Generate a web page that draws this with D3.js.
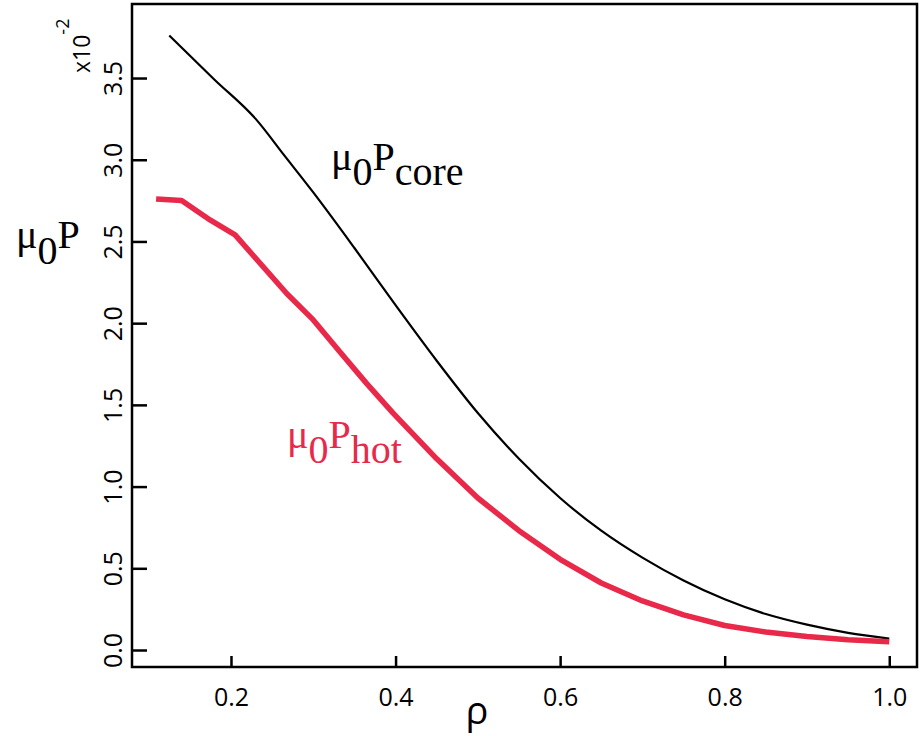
<!DOCTYPE html>
<html>
<head>
<meta charset="utf-8">
<script src="https://cdn.jsdelivr.net/npm/d3@7"></script>
<style>
  html, body { margin: 0; padding: 0; background: #fff; }
  svg { display: block; }
  .serif { font-family: "Liberation Serif", "Times New Roman", "DejaVu Serif", serif; }
  .sans { font-family: "Open Sans", "Noto Sans", sans-serif; }
</style>
</head>
<body>
<svg id="chart" width="924" height="736"></svg>
<script>
// Normalised radius rho and pressure profiles (units of 1e-2)
const rhoCore = [0.125, 0.18, 0.23, 0.265, 0.30, 0.35, 0.40, 0.45, 0.50, 0.55, 0.60, 0.65, 0.70, 0.75, 0.80, 0.85, 0.90, 0.95, 1.00];
const pCore   = [3.76, 3.49, 3.25, 3.025, 2.80, 2.46, 2.11, 1.77, 1.45, 1.17, 0.93, 0.73, 0.565, 0.425, 0.31, 0.22, 0.155, 0.105, 0.07];

const rhoHot = [0.109, 0.140, 0.175, 0.205, 0.268, 0.300, 0.333, 0.365, 0.397, 0.45, 0.50, 0.55, 0.60, 0.65, 0.70, 0.75, 0.80, 0.85, 0.90, 0.95, 1.00];
const pHot   = [2.76, 2.75, 2.63, 2.54, 2.18, 2.02, 1.82, 1.63, 1.45, 1.17, 0.93, 0.73, 0.555, 0.41, 0.30, 0.215, 0.15, 0.11, 0.083, 0.063, 0.05];

const xTicks = [0.2, 0.4, 0.6, 0.8, 1.0];
const yTicks = [0.0, 0.5, 1.0, 1.5, 2.0, 2.5, 3.0, 3.5];

const RED = "#e8294a";

const svg = d3.select("#chart");
const plotLeft = 132, plotRight = 917, plotTop = 4, plotBottom = 667;

const x = d3.scaleLinear().domain([0.0797, 1.0337]).range([plotLeft, plotRight]);
const y = d3.scaleLinear().domain([-0.104, 3.953]).range([plotBottom, plotTop]);

// Frame
svg.append("rect")
  .attr("x", plotLeft).attr("y", plotTop)
  .attr("width", plotRight - plotLeft).attr("height", plotBottom - plotTop)
  .attr("fill", "none").attr("stroke", "#000").attr("stroke-width", 2.5);

// Bottom axis: inward ticks
const xAxis = svg.append("g").attr("transform", `translate(0,${plotBottom})`)
  .call(d3.axisBottom(x).tickValues(xTicks).tickSize(-11).tickPadding(21).tickFormat(d3.format(".1f")));
xAxis.attr("font-family", null).attr("font-size", null);
xAxis.select(".domain").remove();
xAxis.selectAll(".tick line").attr("stroke-width", 2.5);
xAxis.selectAll(".tick text")
  .attr("class", "sans").style("font-size", "25px").attr("fill", "#000");

// Left axis: inward ticks, rotated labels
const yAxis = svg.append("g").attr("transform", `translate(${plotLeft},0)`)
  .call(d3.axisLeft(y).tickValues(yTicks).tickSize(-15).tickFormat(d3.format(".1f")));
yAxis.attr("font-family", null).attr("font-size", null);
yAxis.select(".domain").remove();
yAxis.selectAll(".tick line").attr("stroke-width", 2.5);
yAxis.selectAll(".tick text")
  .attr("class", "sans").style("font-size", "25px").attr("fill", "#000")
  .attr("text-anchor", "middle")
  .attr("x", null).attr("dy", null)
  .attr("transform", "translate(-10,0) rotate(-90)");

// Exponent marker
const expo = svg.append("text")
  .attr("class", "sans")
  .attr("transform", `translate(90,73) rotate(-90)`)
  .style("font-size", "23px").attr("fill", "#000");
expo.append("tspan").text("x10");
expo.append("tspan").attr("dy", -21).style("font-size", "18px").text("-2");

// Axis titles
const yTitle = svg.append("text")
  .attr("class", "serif")
  .attr("x", 16).attr("y", 248)
  .style("font-size", "40px").attr("fill", "#000");
yTitle.append("tspan").text("μ");
yTitle.append("tspan").attr("dy", 16).text("0");
yTitle.append("tspan").attr("dy", -16).text("P");

svg.append("text")
  .attr("class", "sans")
  .attr("x", 477).attr("y", 724)
  .attr("text-anchor", "middle")
  .style("font-size", "38px").attr("fill", "#000")
  .text("ρ");

// Curves
const smooth = d3.line().x(d => x(d[0])).y(d => y(d[1])).curve(d3.curveMonotoneX);
const straight = d3.line().x(d => x(d[0])).y(d => y(d[1]));

svg.append("path")
  .datum(d3.zip(rhoCore, pCore))
  .attr("d", smooth)
  .attr("fill", "none").attr("stroke", "#000").attr("stroke-width", 2.2);

svg.append("path")
  .datum(d3.zip(rhoHot, pHot))
  .attr("d", straight)
  .attr("fill", "none").attr("stroke", RED).attr("stroke-width", 5.5)
  .attr("stroke-linejoin", "round");

// Curve labels
function curveLabel(px, py, sub, color) {
  const t = svg.append("text")
    .attr("class", "serif")
    .attr("x", px).attr("y", py)
    .style("font-size", "40px").attr("fill", color);
  t.append("tspan").text("μ");
  t.append("tspan").attr("dy", 15).text("0");
  t.append("tspan").attr("dy", -15).text("P");
  t.append("tspan").attr("dy", 15).text(sub);
}
curveLabel(331, 170, "core", "#000");
curveLabel(287, 448, "hot", RED);
</script>
</body>
</html>
